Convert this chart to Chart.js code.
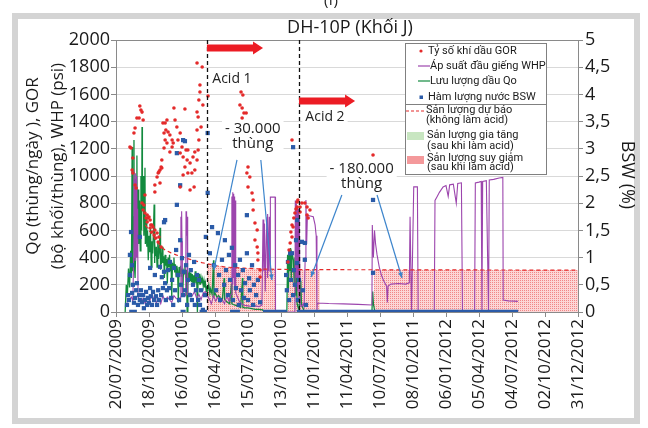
<!DOCTYPE html>
<html>
<head>
<meta charset="utf-8">
<script src="https://cdn.jsdelivr.net/npm/chart.js@4.4.1/dist/chart.umd.min.js"></script>
<style>
  html, body { margin: 0; padding: 0; background: #fff; }
  #wrap { width: 648px; height: 428px; }
</style>
</head>
<body>
<div id="wrap"><canvas id="chart" width="648" height="428"></canvas></div>
<script>
// days counted from 20/07/2009 (first tick of the date axis)
const START = Date.UTC(2009, 6, 20);
const xTickStep = 90;
const xMax = 1260;
const acid1Day = 248;
const acid2Day = 499;

// GOR (bo khoi/thung) - red dots
const gorPoints = [
  [38,1213],[41,1206],[44,1044],[46,1132],[46,1022],[49,1316],[52,1353],[52,934],[55,912],[57,1426],
  [63,1426],[65,1515],[68,1485],[71,1470],[74,1412],[71,801],[74,750],[76,787],[79,860],[79,728],
  [82,691],[85,713],[85,662],[87,691],[90,699],[93,676],[93,618],[95,640],[98,640],[98,588],
  [101,625],[104,566],[106,603],[109,544],[112,581],[115,515],[117,551],[123,478],
  [106,882],[106,934],[112,993],[115,1022],[117,1030],[120,1044],[120,949],[123,1066],[125,1118],[125,1059],
  [128,1390],[131,1206],[131,1316],[134,1390],[134,1265],[136,1338],[139,1243],[139,1412],[142,1324],[147,1302],
  [147,1176],[153,1265],[153,1213],[156,1243],[158,1500],[161,1412],[166,1360],[169,1265],[175,1316],[175,1169],
  [175,919],[180,1213],[183,1140],[183,1007],[188,1493],[188,1066],[191,1191],[194,1118],[196,1191],[196,1022],
  [202,1096],[202,897],[207,1022],[210,1140],[213,919],[215,1044],[215,1176],[221,1118],[221,1338],[221,1471],
  [224,1191],[224,1434],[226,1559],[226,1265],[229,1618],[229,1669],[232,1360],[235,1801],[221,1831],[237,1522],
  [251,1588],[338,1522],[341,1618],[344,1706],[352,1706],[346,1596],[344,1500],[349,1463],[355,1463],[344,1426],
  [346,1360],[360,1066],[357,1022],[365,993],[360,919],[371,875],[374,824],[374,750],[379,654],[385,603],
  [379,529],[385,478],[387,434],[387,382],[393,309],[393,257],
  [469,368],[472,456],[475,507],[477,588],[480,551],[480,640],[483,625],[485,691],[488,728],[491,757],
  [494,772],[494,809],[496,824],[502,772],[502,735],[507,801],[515,801],[521,772],[521,713],[524,691],
  [529,750],[480,1265],[701,1154]
];

// WHP (psi) - purple line
const whpPoints = [
  [30,70],[36,90],[42,110],[46,80],[48,400],[49,1040],[50,420],[51,980],[52,380],[53,1020],
  [54,450],[55,900],[56,400],[57,1000],[58,500],[59,760],[60,120],[63,90],[68,70],[74,100],
  [80,60],[86,110],[92,80],[98,130],[104,90],[110,70],[116,100],[122,60],[128,120],[134,80],
  [140,110],[146,90],[152,70],[158,120],[164,100],[170,90],[176,110],[177,700],[178,480],[179,740],
  [180,520],[181,120],[186,130],[190,120],[191,740],[192,560],[193,720],[194,600],[195,700],[196,130],
  [202,140],[208,120],[214,150],[220,100],[226,130],[232,90],[238,140],[244,150],[248,120],
  [254,100],[260,60],[266,120],[272,80],[278,110],[284,70],[290,90],[296,60],[302,120],[308,80],
  [314,130],[316,850],[317,300],[318,880],[319,200],[320,870],[321,250],[322,830],[323,180],[324,850],
  [325,300],[326,820],[327,140],[330,120],[336,80],[342,60],[350,50],[360,45],[370,40],[380,45],
  [390,40],[398,50],[401,680],[403,300],[405,650],[407,150],[410,560],[412,700],[413,250],[414,720],
  [416,300],[418,700],[420,300],[421,845],[428,845],[434,845],[435,0],[488,0],[489,820],[490,300],
  [491,800],[492,250],[494,780],[495,150],[497,760],[499,100],[500,700],[502,60],[506,40],[510,60],
  [513,40],[516,400],[518,824],[520,500],[522,710],[530,706],[538,700],[543,640],[546,560],[548,0],
  [549,66],[580,62],[620,60],[660,56],[698,52],[699,640],[702,400],[705,600],[708,500],[712,420],
  [718,330],[724,270],[730,230],[738,190],[740,70],[742,190],[750,205],[770,210],[790,205],[800,215],
  [802,700],[806,0],[812,920],[822,920],[824,0],[868,0],[870,820],[876,850],[882,880],[892,919],
  [900,930],[906,850],[910,935],[920,940],[928,800],[932,945],[942,950],[945,0],[978,0],[980,949],
  [990,955],[996,960],[998,0],[1000,960],[1010,965],[1016,0],[1018,970],[1030,975],[1045,985],[1055,990],
  [1056,88],[1070,82],[1085,80],[1096,78]
];

// Qo (thung/ngay) - green line
const qoPoints = [
  [25,0],[28,200],[31,120],[34,320],[37,180],[40,450],[42,250],[44,1213],[45,300],[47,700],
  [49,1265],[50,350],[52,250],[55,600],[57,1150],[58,400],[60,900],[62,500],[64,820],[66,450],
  [68,1000],[70,600],[71,1360],[72,750],[74,1000],[76,560],[78,800],[79,1060],[80,500],[82,700],
  [84,480],[86,600],[88,380],[90,560],[92,440],[94,620],[96,330],[98,520],[100,430],[102,580],
  [104,790],[105,360],[106,500],[108,410],[110,480],[112,330],[114,520],[116,390],[118,460],[120,620],
  [121,310],[122,440],[124,350],[126,480],[128,360],[130,410],[132,250],[134,420],[136,340],[138,390],
  [140,210],[142,400],[144,330],[146,420],[148,300],[150,370],[152,110],[154,360],[156,320],[158,400],
  [160,290],[162,350],[164,260],[166,340],[168,300],[170,70],[172,330],[174,280],[176,340],[178,260],
  [180,320],[182,120],[184,300],[186,280],[188,330],[190,250],[192,310],[194,0],[196,290],[198,250],
  [200,300],[202,230],[204,290],[206,220],[208,280],[210,200],[212,270],[214,230],[216,300],[218,210],
  [220,260],[222,0],[224,250],[226,230],[228,280],[230,200],[232,250],[234,210],[236,240],[238,190],
  [240,230],[242,180],[244,210],[246,150],[248,190],[250,160],[253,200],[256,140],[258,170],[262,130],
  [266,380],[267,120],[270,140],[275,110],[280,120],[285,100],[290,90],[295,250],[296,95],[300,80],
  [305,70],[310,60],[315,210],[316,60],[320,55],[325,50],[330,45],[335,40],[340,35],[345,250],
  [346,35],[350,30],[360,30],[370,25],[380,20],[390,20],[400,15],[405,0],[466,0],[468,420],
  [470,150],[472,460],[474,300],[476,470],[478,250],[480,430],[484,380],[486,200],[488,400],[490,120],
  [492,330],[494,60],[496,40],[500,20],[504,230],[506,50],[510,30],[514,0],[698,0],[700,150],
  [702,60],[706,0]
];

// BSW (%) - blue squares, right axis
const bswPoints = [
  [30,0.13],[33,0.31],[35,0.22],[38,1.05],[38,0.68],[41,1.47],[44,0.86],[44,0.35],[46,0.5],[49,0.17],
  [52,0.26],[55,0.4],[57,0.53],[60,0.13],[63,0.31],[65,1.38],[65,0.22],[68,0.4],[71,0.18],[74,0.31],
  [76,0.07],[79,0.22],[82,0.37],[85,0.13],[87,0.26],[90,0.17],[93,0.44],[93,0.81],[95,0.29],[98,0.13],
  [101,0.37],[104,0.22],[106,0.68],[109,0.29],[112,0.13],[115,0.4],[117,0.22],[120,0.83],[123,0.31],[125,0.64],
  [128,0.44],[131,0.74],[131,1.65],[134,0.53],[134,1.69],[136,0.22],[139,0.4],[142,0.77],[145,0.44],[147,0.92],
  [150,0.26],[153,0.59],[156,0.13],[158,0.81],[161,0.4],[164,1.14],[166,1.97],[166,2.92],[169,0.68],[172,0.22],
  [175,2.33],[175,1.32],[177,0.5],[180,0.99],[183,3.16],[183,0.31],[185,0.74],[188,3.14],[188,0.4],[191,0.86],
  [194,0.13],[196,0.59],[199,1.05],[202,0.31],[204,0.77],[207,0.22],[210,0.5],[213,0.92],[215,0.13],[218,0.4],
  [221,0.68],[224,0.22],[226,0.59],[229,0.13],[232,0.4],[237,0.04],[243,0.31],[245,1.38],[250,3.29],[250,2.19],
  [256,1.08],[262,1.56],[267,0.86],[273,0.4],[278,1.45],[281,0.68],[284,0.22],[289,0.96],[295,0.5],[297,1.32],
  [300,0.77],[305,0.31],[308,1.05],[311,0.59],[316,1.18],[319,0.22],[325,0.86],[327,0.44],[333,0.68],[335,0.13],
  [338,0.96],[341,0.4],[346,0.77],[349,0.26],[352,0.53],[357,1.78],[357,1.08],[360,0.22],[363,0.62],[365,0.4],
  [371,0.86],[374,0.13],[376,0.5],[382,0.31],[387,0.59],[393,0.18],
  [464,0.68],[466,0.4],[469,0.92],[472,0.22],[475,1.08],[477,0.59],[480,1.08],[483,3.03],[483,0.31],[485,0.77],
  [488,0.5],[491,1.32],[494,1.69],[494,0.9],[496,0.22],[499,0.59],[507,1.29],[510,0.4],[515,1.27],[515,0.96],
  [518,0.13],[701,2.06],[701,0.72]
];
// stretches of days where BSW was read as 0 every day
const bswZeroRuns = [[36,57],[176,190],[228,248],[311,338],[401,466],[493,1097]];

// forecast without acid (red dashed)
const forecastPoints = [
  [80,640],[90,600],[101,560],[112,515],[125,475],[134,456],[150,435],[164,420],[180,405],[191,395],
  [205,385],[218,375],[234,363],[248,355],[275,340],[300,330],[350,322],[400,316],[450,313],[500,312],
  [600,311],[800,310],[1000,309],[1260,308]
];
// production loss after acid (pink area, top edge)
const lossPoints = [
  [248,0],[248,355],[275,340],[300,330],[350,322],[400,316],[436,314],[436,0],[437,null],
  [469,0],[469,313],[500,312],[556,311],[556,0],[557,null],
  [703,0],[703,311],[800,310],[1000,309],[1260,308],[1260,0]
];
// production gain after acid (green area, top edge)
const gainPoints = [[470,312],[472,420],[476,470],[480,430],[486,400],[492,330],[494,312]];

const xy = arr => arr.map(p => ({x: p[0], y: p[1]}));
const zeroData = [];
bswZeroRuns.forEach(r => { zeroData.push({x: r[0], y: 0}, {x: r[1], y: 0}, {x: r[1] + 1, y: null}); });

function fmtDay(d) {
  const t = new Date(START + d * 86400000);
  const dd = String(t.getUTCDate()).padStart(2, '0');
  const mm = String(t.getUTCMonth() + 1).padStart(2, '0');
  return dd + '/' + mm + '/' + t.getUTCFullYear();
}

// hatched pink fill
const pat = document.createElement('canvas');
pat.width = 2; pat.height = 2;
const pctx = pat.getContext('2d');
pctx.fillStyle = 'rgb(252,214,214)';
pctx.fillRect(0, 0, 2, 2);
pctx.fillStyle = 'rgb(241,135,135)';
pctx.fillRect(0, 0, 1, 1);
const pinkPattern = pctx.createPattern(pat, 'repeat');

const RED = '#e42a2a', PURPLE = '#9c45ad', GREEN = '#128a3e', BLUE = '#2b5ba8';
const FONT = '"Open Sans", "DejaVu Sans", sans-serif';

function textBox(ctx, lines, cx, cy, lh, padX) {
  let w = 0;
  lines.forEach(s => { w = Math.max(w, ctx.measureText(s).width); });
  const h = lh * lines.length;
  ctx.fillStyle = '#fff';
  ctx.fillRect(cx - w / 2 - padX, cy - h / 2 - 1, w + 2 * padX, h + 2);
  ctx.fillStyle = '#222';
  ctx.textAlign = 'center';
  ctx.textBaseline = 'middle';
  lines.forEach((s, i) => ctx.fillText(s, cx, cy - h / 2 + lh * (i + 0.5)));
}

function redArrow(ctx, x0, x1, y) {
  ctx.fillStyle = '#ec1c24';
  ctx.beginPath();
  ctx.moveTo(x0, y - 3.5);
  ctx.lineTo(x1 - 10, y - 3.5);
  ctx.lineTo(x1 - 10, y - 6.5);
  ctx.lineTo(x1, y);
  ctx.lineTo(x1 - 10, y + 6.5);
  ctx.lineTo(x1 - 10, y + 3.5);
  ctx.lineTo(x0, y + 3.5);
  ctx.closePath();
  ctx.fill();
}

function callout(ctx, x0, y0, x1, y1) {
  ctx.strokeStyle = '#3d85cc';
  ctx.fillStyle = '#3d85cc';
  ctx.lineWidth = 1.2;
  ctx.beginPath(); ctx.moveTo(x0, y0); ctx.lineTo(x1, y1); ctx.stroke();
  const a = Math.atan2(y1 - y0, x1 - x0);
  ctx.beginPath();
  ctx.moveTo(x1, y1);
  ctx.lineTo(x1 - 6 * Math.cos(a - 0.4), y1 - 6 * Math.sin(a - 0.4));
  ctx.lineTo(x1 - 6 * Math.cos(a + 0.4), y1 - 6 * Math.sin(a + 0.4));
  ctx.closePath(); ctx.fill();
}

const deco = {
  id: 'deco',
  beforeDraw(c) {
    const ctx = c.ctx;
    ctx.save();
    ctx.fillStyle = '#fff';
    ctx.fillRect(0, 0, c.width, c.height);
    ctx.strokeStyle = '#d4d4d4';
    ctx.lineWidth = 6;
    ctx.strokeRect(15, 16, 622, 405);
    ctx.fillStyle = '#222';
    ctx.font = '15px ' + FONT;
    ctx.textAlign = 'center';
    ctx.textBaseline = 'bottom';
    ctx.fillText('(f)', 331, 8);
    ctx.restore();
  },
  beforeDatasetsDraw(c) {
    const a = c.chartArea, ctx = c.ctx;
    ctx.save();
    ctx.strokeStyle = '#8a8a8a';
    ctx.lineWidth = 1;
    ctx.strokeRect(Math.round(a.left) + 0.5, Math.round(a.top) + 0.5, Math.round(a.right - a.left), Math.round(a.bottom - a.top));
    ctx.restore();
  },
  afterDatasetsDraw(c) {
    const a = c.chartArea, ctx = c.ctx, X = c.scales.x, Y = c.scales.y;
    const px = d => X.getPixelForValue(d), py = v => Y.getPixelForValue(v);
    ctx.save();
    // acid dates
    ctx.strokeStyle = '#111';
    ctx.lineWidth = 1.3;
    ctx.setLineDash([4, 3]);
    [acid1Day, acid2Day].forEach(d => {
      const x = Math.round(px(d)) + 0.5;
      ctx.beginPath(); ctx.moveTo(x, a.top); ctx.lineTo(x, a.bottom); ctx.stroke();
    });
    ctx.setLineDash([]);
    redArrow(ctx, px(acid1Day), px(401), py(1941));
    redArrow(ctx, px(acid2Day), px(652), py(1551));
    ctx.font = '14px ' + FONT;
    textBox(ctx, ['Acid 1'], px(acid1Day) + 25, py(1710), 17, 3);
    textBox(ctx, ['Acid 2'], px(acid2Day) + 26, py(1432), 17, 3);
    ctx.font = '15px ' + FONT;
    textBox(ctx, ['- 30.000', 'thùng'], px(373), py(1290), 15, 3);
    textBox(ctx, ['- 180.000', 'thùng'], px(670), py(1000), 15, 3);
    callout(ctx, px(330), py(1118), px(267), py(309));
    callout(ctx, px(395), py(1118), px(425), py(235));
    callout(ctx, px(616), py(860), px(532), py(257));
    callout(ctx, px(712), py(860), px(780), py(250));

    // legend
    const L = 405.5, T = 43.5, W = 141, H = 131;
    ctx.fillStyle = '#fff';
    ctx.fillRect(L, T, W, H);
    ctx.strokeStyle = '#808080';
    ctx.lineWidth = 1;
    ctx.strokeRect(L, T, W, H);
    ctx.beginPath(); ctx.moveTo(L, 104.5); ctx.lineTo(L + W, 104.5); ctx.stroke();
    ctx.font = '11px Roboto, ' + FONT;
    ctx.textAlign = 'left';
    ctx.textBaseline = 'middle';
    const ds = c.data.datasets;
    ctx.fillStyle = RED;
    ctx.beginPath(); ctx.arc(421, 51, 1.6, 0, Math.PI * 2); ctx.fill();
    ctx.fillStyle = BLUE;
    ctx.fillRect(419.5, 95.5, 3.5, 3.5);
    ctx.lineWidth = 1.2;
    ctx.strokeStyle = PURPLE;
    ctx.beginPath(); ctx.moveTo(418, 66); ctx.lineTo(430, 66); ctx.stroke();
    ctx.strokeStyle = GREEN;
    ctx.beginPath(); ctx.moveTo(418, 81); ctx.lineTo(430, 81); ctx.stroke();
    ctx.strokeStyle = RED;
    ctx.setLineDash([3, 2]);
    ctx.beginPath(); ctx.moveTo(406, 111); ctx.lineTo(425, 111); ctx.stroke();
    ctx.setLineDash([]);
    ctx.fillStyle = '#c8e6c1';
    ctx.fillRect(407, 132, 17, 8);
    ctx.fillStyle = '#f4999b';
    ctx.fillRect(407, 156, 17, 8);
    ctx.fillStyle = '#1a1a1a';
    ctx.fillText(ds[0].label, 428, 51);
    ctx.fillText(ds[1].label, 430, 66);
    ctx.fillText(ds[2].label, 430, 81);
    ctx.fillText(ds[3].label, 428, 97);
    ctx.fillText(ds[5].label, 426, 110);
    ctx.fillText('(không làm acid)', 426, 120);
    ctx.fillText(ds[6].label, 427, 135);
    ctx.fillText('(sau khi làm acid)', 427, 146);
    ctx.fillText(ds[7].label, 427, 158);
    ctx.fillText('(sau khi làm acid)', 427, 167);
    ctx.restore();
  },
  afterDraw(c) {
    const ctx = c.ctx;
    ctx.save();
    ctx.fillStyle = '#1a1a1a';
    ctx.textAlign = 'center';
    ctx.textBaseline = 'middle';
    ctx.font = '18px ' + FONT;
    ctx.fillText('DH-10P (Khối J)', 350, 28);
    ctx.font = '17px ' + FONT;
    ctx.save();
    ctx.translate(33, 166); ctx.rotate(-Math.PI / 2);
    ctx.fillText('Qo (thùng/ngày ), GOR', 0, 0);
    ctx.restore();
    ctx.save();
    ctx.translate(58, 166); ctx.rotate(-Math.PI / 2);
    ctx.fillText('(bộ khối/thùng), WHP (psi)', 0, 0);
    ctx.restore();
    ctx.font = '18px ' + FONT;
    ctx.translate(627, 175); ctx.rotate(Math.PI / 2);
    ctx.fillText('BSW (%)', 0, 0);
    ctx.restore();
  }
};

new Chart(document.getElementById('chart'), {
  type: 'scatter',
  data: {
    datasets: [
      { label: 'Tỷ số khí dầu GOR', data: xy(gorPoints), yAxisID: 'y', order: 0,
        pointRadius: 1.8, pointBackgroundColor: RED, pointBorderWidth: 0 },
      { label: 'Áp suất đầu giếng WHP', data: xy(whpPoints), yAxisID: 'y', order: 3, showLine: true,
        borderColor: PURPLE, borderWidth: 1.1, pointRadius: 0, tension: 0 },
      { label: 'Lưu lượng dầu Qo', data: xy(qoPoints), yAxisID: 'y', order: 4, showLine: true,
        borderColor: GREEN, borderWidth: 1.3, pointRadius: 0, tension: 0 },
      { label: 'Hàm lượng nước BSW', data: xy(bswPoints), yAxisID: 'y2', order: 1,
        pointStyle: 'rect', pointRadius: 3, pointBackgroundColor: BLUE, pointBorderWidth: 0 },
      { label: 'BSW = 0', data: zeroData, yAxisID: 'y2', order: 1, showLine: true, spanGaps: false,
        borderColor: BLUE, borderWidth: 4.5, pointRadius: 0 },
      { label: 'Sản lượng dự báo', data: xy(forecastPoints), yAxisID: 'y', order: 2, showLine: true,
        borderColor: RED, borderWidth: 1.2, borderDash: [4, 3], pointRadius: 0 },
      { label: 'Sản lượng gia tăng', data: xy(gainPoints), yAxisID: 'y', order: 6, showLine: true,
        borderWidth: 0, borderColor: 'rgba(0,0,0,0)', backgroundColor: '#c8e6c1', fill: 'origin', pointRadius: 0 },
      { label: 'Sản lượng suy giảm', data: xy(lossPoints), yAxisID: 'y', order: 5, showLine: true, spanGaps: false,
        borderWidth: 0, borderColor: 'rgba(0,0,0,0)', backgroundColor: pinkPattern, fill: 'origin', pointRadius: 0 }
    ]
  },
  options: {
    responsive: false,
    animation: false,
    devicePixelRatio: 1,
    layout: { padding: { top: 40, left: 0, right: 0, bottom: 0 } },
    plugins: { legend: { display: false }, tooltip: { enabled: false }, title: { display: false } },
    scales: {
      x: {
        type: 'linear', min: 0, max: xMax,
        afterFit: s => { s.height = 116; },
        afterBuildTicks: s => { s.ticks = []; for (let v = 0; v <= xMax; v += xTickStep) s.ticks.push({ value: v }); },
        grid: { drawOnChartArea: false, tickLength: 5, tickColor: '#8a8a8a' },
        border: { display: false },
        ticks: { autoSkip: false, minRotation: 90, maxRotation: 90, padding: 2, color: '#1a1a1a',
          font: { family: FONT, size: 17 }, callback: v => fmtDay(v) }
      },
      y: {
        position: 'left', min: 0, max: 2000,
        afterFit: s => { s.width = 116; },
        grid: { color: '#d9d9d9', tickLength: 5, tickColor: '#8a8a8a' },
        border: { display: false },
        ticks: { stepSize: 200, padding: 1, color: '#1a1a1a', font: { family: FONT, size: 18 },
          callback: v => String(v) }
      },
      y2: {
        position: 'right', min: 0, max: 5,
        afterFit: s => { s.width = 70; },
        grid: { drawOnChartArea: false, tickLength: 5, tickColor: '#8a8a8a' },
        border: { display: false },
        ticks: { stepSize: 0.5, padding: 2, color: '#1a1a1a', font: { family: FONT, size: 18 },
          callback: v => String(Math.round(v * 10) / 10).replace('.', ',') }
      }
    }
  },
  plugins: [deco]
});
</script>
</body>
</html>
